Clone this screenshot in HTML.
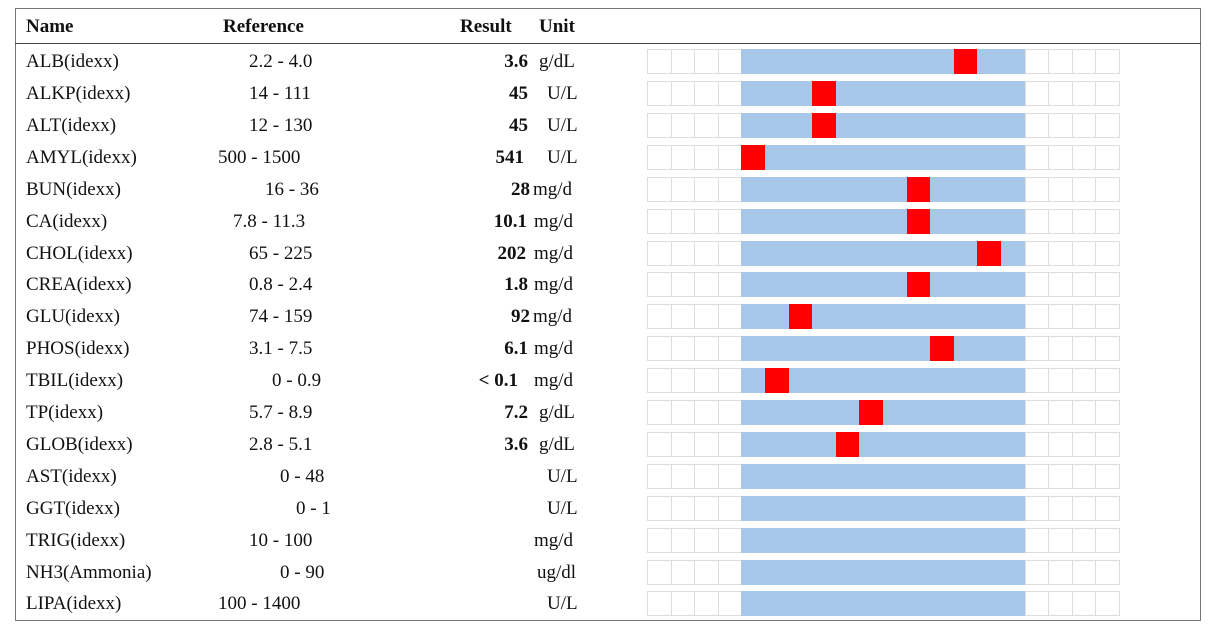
<!DOCTYPE html>
<html><head><meta charset="utf-8"><style>
*{margin:0;padding:0;box-sizing:border-box}
body{width:1218px;height:628px;background:#fff;position:relative;overflow:hidden;font-family:"Liberation Serif",serif;font-size:19px;color:#111}
.frame{position:absolute;left:15px;top:8px;width:1186px;height:613px;border:1px solid #777}
.hline{position:absolute;left:15px;top:43px;width:1186px;border-top:1.5px solid #444}
.t{position:absolute;line-height:32px;white-space:nowrap;margin-top:2px}
.h{font-weight:bold;top:9px}
.r{text-align:right;width:100px;font-weight:bold}
.bar{position:absolute;left:647px;width:473px;height:25px;display:flex}
.bar div{flex:1;border:1px solid #ddd;border-right:none}
.bar div:last-child{border-right:1px solid #ddd}
.bar .b{background:#a8c8ea;border-color:#a8c8ea}
.bar .x{background:#f00;border-color:#f00}
</style></head><body>
<div class="frame"></div><div class="hline"></div>
<div class="t h" style="left:26px">Name</div>
<div class="t h" style="left:223px">Reference</div>
<div class="t h" style="left:460px">Result</div>
<div class="t h" style="left:539px">Unit</div>

<div class="t" style="left:26px;top:44px">ALB(idexx)</div><div class="t" style="left:249px;top:44px">2.2 - 4.0</div><div class="t r" style="left:428px;top:44px">3.6</div><div class="t" style="left:539px;top:44px">g/dL</div>
<div class="t" style="left:26px;top:76px">ALKP(idexx)</div><div class="t" style="left:249px;top:76px">14 - 111</div><div class="t r" style="left:428px;top:76px">45</div><div class="t" style="left:547px;top:76px">U/L</div>
<div class="t" style="left:26px;top:108px">ALT(idexx)</div><div class="t" style="left:249px;top:108px">12 - 130</div><div class="t r" style="left:428px;top:108px">45</div><div class="t" style="left:547px;top:108px">U/L</div>
<div class="t" style="left:26px;top:140px">AMYL(idexx)</div><div class="t" style="left:218px;top:140px">500 - 1500</div><div class="t r" style="left:424px;top:140px">541</div><div class="t" style="left:547px;top:140px">U/L</div>
<div class="t" style="left:26px;top:172px">BUN(idexx)</div><div class="t" style="left:265px;top:172px">16 - 36</div><div class="t r" style="left:430px;top:172px">28</div><div class="t" style="left:533px;top:172px">mg/d</div>
<div class="t" style="left:26px;top:204px">CA(idexx)</div><div class="t" style="left:233px;top:204px">7.8 - 11.3</div><div class="t r" style="left:427px;top:204px">10.1</div><div class="t" style="left:534px;top:204px">mg/d</div>
<div class="t" style="left:26px;top:236px">CHOL(idexx)</div><div class="t" style="left:249px;top:236px">65 - 225</div><div class="t r" style="left:426px;top:236px">202</div><div class="t" style="left:534px;top:236px">mg/d</div>
<div class="t" style="left:26px;top:267px">CREA(idexx)</div><div class="t" style="left:249px;top:267px">0.8 - 2.4</div><div class="t r" style="left:428px;top:267px">1.8</div><div class="t" style="left:534px;top:267px">mg/d</div>
<div class="t" style="left:26px;top:299px">GLU(idexx)</div><div class="t" style="left:249px;top:299px">74 - 159</div><div class="t r" style="left:430px;top:299px">92</div><div class="t" style="left:533px;top:299px">mg/d</div>
<div class="t" style="left:26px;top:331px">PHOS(idexx)</div><div class="t" style="left:249px;top:331px">3.1 - 7.5</div><div class="t r" style="left:428px;top:331px">6.1</div><div class="t" style="left:534px;top:331px">mg/d</div>
<div class="t" style="left:26px;top:363px">TBIL(idexx)</div><div class="t" style="left:272px;top:363px">0 - 0.9</div><div class="t r" style="left:418px;top:363px">&lt; 0.1</div><div class="t" style="left:534px;top:363px">mg/d</div>
<div class="t" style="left:26px;top:395px">TP(idexx)</div><div class="t" style="left:249px;top:395px">5.7 - 8.9</div><div class="t r" style="left:428px;top:395px">7.2</div><div class="t" style="left:539px;top:395px">g/dL</div>
<div class="t" style="left:26px;top:427px">GLOB(idexx)</div><div class="t" style="left:249px;top:427px">2.8 - 5.1</div><div class="t r" style="left:428px;top:427px">3.6</div><div class="t" style="left:539px;top:427px">g/dL</div>
<div class="t" style="left:26px;top:459px">AST(idexx)</div><div class="t" style="left:280px;top:459px">0 - 48</div><div class="t" style="left:547px;top:459px">U/L</div>
<div class="t" style="left:26px;top:491px">GGT(idexx)</div><div class="t" style="left:296px;top:491px">0 - 1</div><div class="t" style="left:547px;top:491px">U/L</div>
<div class="t" style="left:26px;top:523px">TRIG(idexx)</div><div class="t" style="left:249px;top:523px">10 - 100</div><div class="t" style="left:534px;top:523px">mg/d</div>
<div class="t" style="left:26px;top:555px">NH3(Ammonia)</div><div class="t" style="left:280px;top:555px">0 - 90</div><div class="t" style="left:537px;top:555px">ug/dl</div>
<div class="t" style="left:26px;top:586px">LIPA(idexx)</div><div class="t" style="left:218px;top:586px">100 - 1400</div><div class="t" style="left:547px;top:586px">U/L</div>

<div class="bar" style="top:49px"><div></div><div></div><div></div><div></div><div class="b"></div><div class="b"></div><div class="b"></div><div class="b"></div><div class="b"></div><div class="b"></div><div class="b"></div><div class="b"></div><div class="b"></div><div class="x"></div><div class="b"></div><div class="b"></div><div></div><div></div><div></div><div></div></div>
<div class="bar" style="top:81px"><div></div><div></div><div></div><div></div><div class="b"></div><div class="b"></div><div class="b"></div><div class="x"></div><div class="b"></div><div class="b"></div><div class="b"></div><div class="b"></div><div class="b"></div><div class="b"></div><div class="b"></div><div class="b"></div><div></div><div></div><div></div><div></div></div>
<div class="bar" style="top:113px"><div></div><div></div><div></div><div></div><div class="b"></div><div class="b"></div><div class="b"></div><div class="x"></div><div class="b"></div><div class="b"></div><div class="b"></div><div class="b"></div><div class="b"></div><div class="b"></div><div class="b"></div><div class="b"></div><div></div><div></div><div></div><div></div></div>
<div class="bar" style="top:145px"><div></div><div></div><div></div><div></div><div class="x"></div><div class="b"></div><div class="b"></div><div class="b"></div><div class="b"></div><div class="b"></div><div class="b"></div><div class="b"></div><div class="b"></div><div class="b"></div><div class="b"></div><div class="b"></div><div></div><div></div><div></div><div></div></div>
<div class="bar" style="top:177px"><div></div><div></div><div></div><div></div><div class="b"></div><div class="b"></div><div class="b"></div><div class="b"></div><div class="b"></div><div class="b"></div><div class="b"></div><div class="x"></div><div class="b"></div><div class="b"></div><div class="b"></div><div class="b"></div><div></div><div></div><div></div><div></div></div>
<div class="bar" style="top:209px"><div></div><div></div><div></div><div></div><div class="b"></div><div class="b"></div><div class="b"></div><div class="b"></div><div class="b"></div><div class="b"></div><div class="b"></div><div class="x"></div><div class="b"></div><div class="b"></div><div class="b"></div><div class="b"></div><div></div><div></div><div></div><div></div></div>
<div class="bar" style="top:241px"><div></div><div></div><div></div><div></div><div class="b"></div><div class="b"></div><div class="b"></div><div class="b"></div><div class="b"></div><div class="b"></div><div class="b"></div><div class="b"></div><div class="b"></div><div class="b"></div><div class="x"></div><div class="b"></div><div></div><div></div><div></div><div></div></div>
<div class="bar" style="top:272px"><div></div><div></div><div></div><div></div><div class="b"></div><div class="b"></div><div class="b"></div><div class="b"></div><div class="b"></div><div class="b"></div><div class="b"></div><div class="x"></div><div class="b"></div><div class="b"></div><div class="b"></div><div class="b"></div><div></div><div></div><div></div><div></div></div>
<div class="bar" style="top:304px"><div></div><div></div><div></div><div></div><div class="b"></div><div class="b"></div><div class="x"></div><div class="b"></div><div class="b"></div><div class="b"></div><div class="b"></div><div class="b"></div><div class="b"></div><div class="b"></div><div class="b"></div><div class="b"></div><div></div><div></div><div></div><div></div></div>
<div class="bar" style="top:336px"><div></div><div></div><div></div><div></div><div class="b"></div><div class="b"></div><div class="b"></div><div class="b"></div><div class="b"></div><div class="b"></div><div class="b"></div><div class="b"></div><div class="x"></div><div class="b"></div><div class="b"></div><div class="b"></div><div></div><div></div><div></div><div></div></div>
<div class="bar" style="top:368px"><div></div><div></div><div></div><div></div><div class="b"></div><div class="x"></div><div class="b"></div><div class="b"></div><div class="b"></div><div class="b"></div><div class="b"></div><div class="b"></div><div class="b"></div><div class="b"></div><div class="b"></div><div class="b"></div><div></div><div></div><div></div><div></div></div>
<div class="bar" style="top:400px"><div></div><div></div><div></div><div></div><div class="b"></div><div class="b"></div><div class="b"></div><div class="b"></div><div class="b"></div><div class="x"></div><div class="b"></div><div class="b"></div><div class="b"></div><div class="b"></div><div class="b"></div><div class="b"></div><div></div><div></div><div></div><div></div></div>
<div class="bar" style="top:432px"><div></div><div></div><div></div><div></div><div class="b"></div><div class="b"></div><div class="b"></div><div class="b"></div><div class="x"></div><div class="b"></div><div class="b"></div><div class="b"></div><div class="b"></div><div class="b"></div><div class="b"></div><div class="b"></div><div></div><div></div><div></div><div></div></div>
<div class="bar" style="top:464px"><div></div><div></div><div></div><div></div><div class="b"></div><div class="b"></div><div class="b"></div><div class="b"></div><div class="b"></div><div class="b"></div><div class="b"></div><div class="b"></div><div class="b"></div><div class="b"></div><div class="b"></div><div class="b"></div><div></div><div></div><div></div><div></div></div>
<div class="bar" style="top:496px"><div></div><div></div><div></div><div></div><div class="b"></div><div class="b"></div><div class="b"></div><div class="b"></div><div class="b"></div><div class="b"></div><div class="b"></div><div class="b"></div><div class="b"></div><div class="b"></div><div class="b"></div><div class="b"></div><div></div><div></div><div></div><div></div></div>
<div class="bar" style="top:528px"><div></div><div></div><div></div><div></div><div class="b"></div><div class="b"></div><div class="b"></div><div class="b"></div><div class="b"></div><div class="b"></div><div class="b"></div><div class="b"></div><div class="b"></div><div class="b"></div><div class="b"></div><div class="b"></div><div></div><div></div><div></div><div></div></div>
<div class="bar" style="top:560px"><div></div><div></div><div></div><div></div><div class="b"></div><div class="b"></div><div class="b"></div><div class="b"></div><div class="b"></div><div class="b"></div><div class="b"></div><div class="b"></div><div class="b"></div><div class="b"></div><div class="b"></div><div class="b"></div><div></div><div></div><div></div><div></div></div>
<div class="bar" style="top:591px"><div></div><div></div><div></div><div></div><div class="b"></div><div class="b"></div><div class="b"></div><div class="b"></div><div class="b"></div><div class="b"></div><div class="b"></div><div class="b"></div><div class="b"></div><div class="b"></div><div class="b"></div><div class="b"></div><div></div><div></div><div></div><div></div></div>
</body></html>
